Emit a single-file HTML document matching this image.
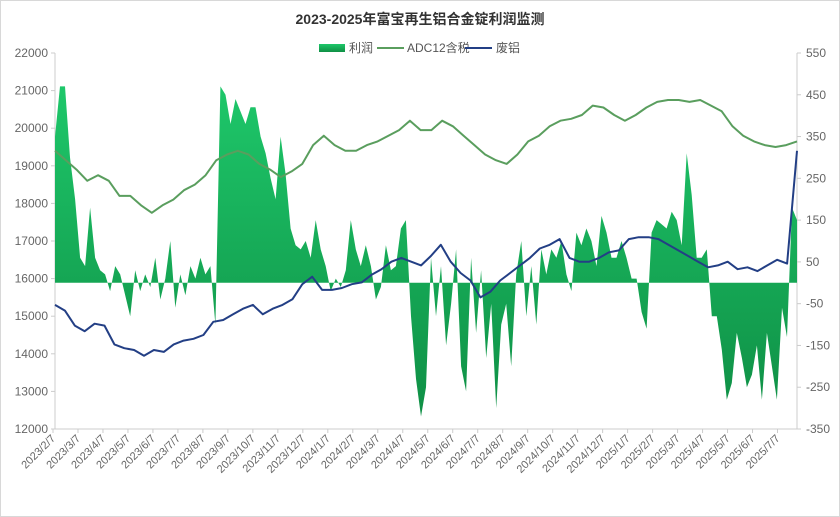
<!DOCTYPE html>
<html><head><meta charset="utf-8"><style>
body{margin:0;background:#fff}
svg{display:block;font-family:"Liberation Sans","Noto Sans CJK SC",sans-serif}
</style></head><body>
<svg id="c" width="840" height="517" viewBox="0 0 840 517">
<defs><linearGradient id="g" x1="0" y1="0" x2="0" y2="1">
<stop offset="0" stop-color="#1ec76a"/><stop offset="1" stop-color="#0f8f45"/></linearGradient></defs>
<rect x="0.5" y="0.5" width="839" height="516" fill="#fff" stroke="#d8d8d8"/>
<text x="420" y="24" text-anchor="middle" font-size="14" font-weight="bold" fill="#333">2023-2025年富宝再生铝合金锭利润监测</text>
<g>
<rect x="319" y="44" width="26" height="8" fill="url(#g)"/>
<text x="349" y="52" font-size="12" fill="#555">利润</text>
<line x1="377" y1="48" x2="404" y2="48" stroke="#5a9e5e" stroke-width="2"/>
<text x="407" y="52" font-size="12" fill="#555">ADC12含税</text>
<line x1="465" y1="48" x2="492" y2="48" stroke="#233f85" stroke-width="2"/>
<text x="496" y="52" font-size="12" fill="#555">废铝</text>
</g>
<g id="axes"></g>
<g id="plot"></g>
</svg>
<script>
const months=["2023/2/7","2023/3/7","2023/4/7","2023/5/7","2023/6/7","2023/7/7","2023/8/7","2023/9/7","2023/10/7","2023/11/7","2023/12/7","2024/1/7","2024/2/7","2024/3/7","2024/4/7","2024/5/7","2024/6/7","2024/7/7","2024/8/7","2024/9/7","2024/10/7","2024/11/7","2024/12/7","2025/1/7","2025/2/7","2025/3/7","2025/4/7","2025/5/7","2025/6/7","2025/7/7"];
const leftTicks=[12000,13000,14000,15000,16000,17000,18000,19000,20000,21000,22000];
const rightTicks=[-350,-250,-150,-50,50,150,250,350,450,550];
const profit=[350,470,470,300,200,60,40,180,60,30,
20,-20,40,20,-30,-80,30,-20,20,-10,
60,-40,10,100,-60,20,-30,40,10,60,
20,40,-100,470,450,380,440,410,380,420,
420,350,310,250,200,350,260,130,90,80,
100,60,150,80,40,-20,10,-10,30,150,
80,40,90,40,-40,-10,90,30,40,130,
150,-80,-230,-320,-250,60,-80,40,-150,-50,
80,-200,-260,60,-120,30,-180,-50,-300,-100,
-50,-200,20,100,-80,40,-100,80,20,80,
60,100,20,-20,120,90,130,100,40,160,
120,60,60,100,60,10,10,-70,-110,120,
150,140,130,170,150,90,310,210,60,60,
80,-80,-80,-160,-280,-240,-120,-180,-250,-220,
-150,-280,-120,-200,-280,-60,-130,180,150];
const adc12=[19400,19150,18900,18600,18750,18600,18200,18200,17950,17750,17950,18100,18350,18500,18750,19150,19300,19400,19300,19050,18900,18700,18850,19050,19550,19800,19550,19400,19400,19550,19650,19800,19950,20200,19950,19950,20200,20050,19800,19550,19300,19150,19050,19300,19650,19800,20050,20200,20250,20350,20600,20550,20350,20200,20350,20550,20700,20750,20750,20700,20750,20600,20450,20050,19800,19650,19550,19500,19550,19650];
const scrap=[15300,15150,14750,14600,14800,14750,14250,14150,14100,13950,14100,14050,14250,14350,14400,14500,14850,14900,15050,15200,15300,15050,15200,15300,15450,15850,16050,15700,15700,15750,15850,15900,16100,16250,16450,16550,16450,16350,16600,16900,16450,16150,15950,15500,15650,15950,16150,16350,16550,16800,16900,17050,16550,16450,16450,16550,16700,16750,17050,17100,17100,17050,16900,16750,16600,16450,16300,16350,16450,16250,16300,16200,16350,16500,16400,19400];
const X0=55,X1=797,YT=53,YB=429;
const xi=(i,n)=>X0+(X1-X0)*i/(n-1);
const yL=v=>YB-(v-12000)/10000*(YB-YT);
const yR=v=>YB-(v+350)/900*(YB-YT);
const NS="http://www.w3.org/2000/svg";
function mk(tag,attrs,parent){const e=document.createElementNS(NS,tag);for(const k in attrs)e.setAttribute(k,attrs[k]);parent.appendChild(e);return e;}
const ax=document.getElementById('axes'),pl=document.getElementById('plot');
// axis lines
let l=mk('line',{x1:X0,y1:YT,x2:X0,y2:YB,stroke:'#ccc'},ax);


l=mk('line',{x1:X1,y1:YT,x2:X1,y2:YB,stroke:'#ccc'},ax);


l=mk('line',{x1:X0,y1:YB,x2:X1,y2:YB,stroke:'#ccc'},ax);


leftTicks.forEach(v=>{const y=yL(v);mk('line',{x1:X0-4,y1:y,x2:X0,y2:y,stroke:'#ccc'},ax);
const t=mk('text',{x:X0-7,y:y+4,'text-anchor':'end','font-size':12,fill:'#666'},ax);t.textContent=v;

});
rightTicks.forEach(v=>{const y=yR(v);mk('line',{x1:X1,y1:y,x2:X1+4,y2:y,stroke:'#ccc'},ax);
const t=mk('text',{x:X1+9,y:y+4,'font-size':12,fill:'#666'},ax);t.textContent=v;

});
const step=(X1-X0)/29.7;
months.forEach((m,i)=>{const x=X0-2+step*i;mk('line',{x1:x,y1:YB,x2:x,y2:YB+4,stroke:'#ccc'},ax);
const t=mk('text',{x:x+3,y:YB+10,'text-anchor':'end','font-size':11,fill:'#666',transform:`rotate(-45 ${x+3} ${YB+10})`},ax);t.textContent=m;

});
// profit area
const z=yR(0);let d=`M${X0},${z}`;
profit.forEach((v,i)=>{d+=`L${xi(i,profit.length).toFixed(1)},${yR(v).toFixed(1)}`;});
d+=`L${X1},${z}Z`;
const a=mk('path',{d:d,fill:'url(#g)'},pl);


function line(arr,color,name){let p='';arr.forEach((v,i)=>{p+=(i?'L':'M')+xi(i,arr.length).toFixed(1)+','+yL(v).toFixed(1);});
const e=mk('path',{d:p,fill:'none',stroke:color,'stroke-width':2,'stroke-linejoin':'round'},pl);

}
line(adc12,'#5a9e5e','adc12-line');
line(scrap,'#233f85','scrap-line');
</script>
</body></html>
